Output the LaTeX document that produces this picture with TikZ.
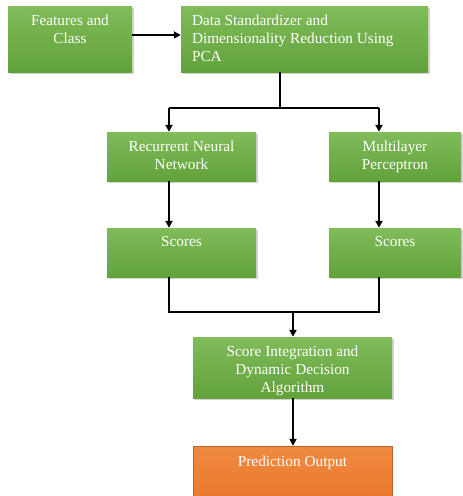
\documentclass[tikz,border=0pt]{standalone}
\usepackage{fontspec}
\setmainfont{Liberation Serif}
\usetikzlibrary{arrows.meta,shadows}
\definecolor{gtop}{HTML}{80BC5A}
\definecolor{gbot}{HTML}{62A23A}
\definecolor{otop}{HTML}{EF8A40}
\definecolor{obot}{HTML}{EA7A2E}
\tikzset{
  gbox/.style={draw=none, top color=gtop, bottom color=gbot, inner sep=0pt,
     drop shadow={shadow xshift=1.5pt, shadow yshift=-1.5pt, opacity=0.35}},
  obox/.style={draw=obot!80!black, line width=0.4pt, top color=otop, bottom color=obot, inner sep=0pt},
  btext/.style={text=white, font=\fontsize{15.3}{18.2}\selectfont, inner sep=0pt, anchor=north, yshift=-8.5pt},
  conn/.style={line width=1.8pt, black},
  arr/.style={conn, -{Triangle[length=7pt,width=7pt]}}
}
\begin{document}
\begin{tikzpicture}[x=1pt,y=-1pt]
\useasboundingbox (0,0) rectangle (463,496);
% boxes
\node[gbox, minimum width=124pt, minimum height=66pt] (fc) at (70,39) {};
\node[gbox, minimum width=247pt, minimum height=66pt] (pca) at (304.5,39) {};
\node[gbox, minimum width=149pt, minimum height=49pt] (rnn) at (181.5,156.5) {};
\node[gbox, minimum width=132pt, minimum height=49pt] (mlp) at (395,156.5) {};
\node[gbox, minimum width=149pt, minimum height=49pt] (sc1) at (181.5,252.5) {};
\node[gbox, minimum width=132pt, minimum height=49pt] (sc2) at (395,252.5) {};
\node[gbox, minimum width=199pt, minimum height=61pt] (sid) at (292.5,367.5) {};
\node[obox, minimum width=199pt, minimum height=50pt] (pred) at (292.5,471) {};
% texts
\node[btext, align=center] (tfc) at (fc.north) {Features and\\Class};
\node[btext, align=left, anchor=north west, xshift=11pt] (tpca) at (pca.north west) {Data Standardizer and\\Dimensionality Reduction Using\\PCA};
\node[btext, align=center] (trnn) at (rnn.north) {Recurrent Neural\\Network};
\node[btext, align=center] (tmlp) at (mlp.north) {Multilayer\\Perceptron};
\node[btext] (tsc1) at (sc1.north) {Scores};
\node[btext] (tsc2) at (sc2.north) {Scores};
\node[btext, align=center] (tsid) at (sid.north) {Score Integration and\\Dynamic Decision\\Algorithm};
\node[btext, yshift=-1pt] (tpred) at (pred.north) {Prediction Output};
% connectors
\coordinate (ya) at (0,35);
\coordinate (jm) at (280,108);
\coordinate (tl) at (169,108);
\coordinate (tr) at (379,108);
\coordinate (bl) at (169,312);
\coordinate (br) at (379,312);
\coordinate (bm) at (293,312);
\draw[arr] (fc.east |- ya) -- (pca.west |- ya);
\draw[conn] (pca.south -| jm) -- (jm);
\draw[conn] (tl) -- (tr);
\draw[arr] (tl) -- (tl |- rnn.north);
\draw[arr] (tr) -- (tr |- mlp.north);
\draw[arr] (tl |- rnn.south) -- (tl |- sc1.north);
\draw[arr] (tr |- mlp.south) -- (tr |- sc2.north);
\draw[conn] (tl |- sc1.south) -- (bl) -- (br) -- (br |- sc2.south);
\draw[arr] (bm) -- (bm |- sid.north);
\draw[arr] (bm |- sid.south) -- (bm |- pred.north);
\end{tikzpicture}
\end{document}
